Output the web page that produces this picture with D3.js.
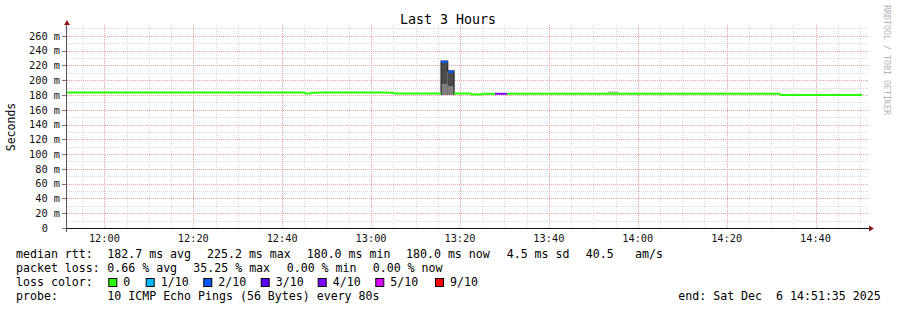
<!DOCTYPE html>
<html>
<head>
<meta charset="utf-8">
<script src="https://cdn.jsdelivr.net/npm/d3@7"></script>
<style>
  body { margin: 0; background: #fff; }
  svg { display: block; }
  text { font-family: "DejaVu Sans Mono", monospace; white-space: pre; }
</style>
</head>
<body>
<svg id="chart" width="897" height="310"></svg>
<script>
// segment start times (80s probe, consolidated), and the last end
var segStart = ["11:51:35", "12:45:08", "12:46:29", "12:47:50", "13:03:48", "13:05:10",
    "13:15:45", "13:17:15", "13:18:40", "13:22:30", "13:25:00", "13:27:53", "13:30:35", "14:32:00"];
var lastEnd = "14:50:28";
var medianMs = [183.4, 182.0, 183.0, 183.4, 183.0, 182.0,
    224.9, 211.3, 182.0, 180.8, 181.6, 181.6, 181.6, 180.1];
var lossTenths = [0, 0, 0, 0, 0, 0, 2, 2, 0, 0, 0, 4, 0, 0];

// smoke (ms): min, upper edge of light band, max
var smokeFrom = ["13:15:45", "13:17:15", "13:53:18"];
var smokeTo   = ["13:17:15", "13:18:40", "13:55:47"];
var smokeMin  = [180.0, 180.0, 181.6];
var smokeMid  = [195.0, 192.0, 185.0];
var smokeMax  = [226.0, 212.5, 185.0];

var yTicks = [0, 20, 40, 60, 80, 100, 120, 140, 160, 180, 200, 220, 240, 260];
var xTickTimes = ["12:00", "12:20", "12:40", "13:00", "13:20", "13:40", "14:00", "14:20", "14:40"];

var lossLabels = ["0", "1/10", "2/10", "3/10", "4/10", "5/10", "9/10"];
var lossColors = ["#26ff00", "#00b8ff", "#0059ff", "#5e00ff", "#7e00ff", "#dd00ff", "#ff0000"];
var lossIndex = {0: 0, 1: 1, 2: 2, 3: 3, 4: 4, 5: 5, 9: 6};

var rttRow = ["median rtt:", "182.7 ms avg", "225.2 ms max", "180.0 ms min", "180.0 ms now", "4.5 ms sd", "40.5", "am/s"];
var lossRow = ["packet loss:", "0.66 % avg", "35.25 % max", "0.00 % min", "0.00 % now"];
var probeRow = ["probe:", "10 ICMP Echo Pings (56 Bytes) every 80s"];
var endText = "end: Sat Dec  6 14:51:35 2025";

var parseT = d3.timeParse("%H:%M:%S");
var parseHM = d3.timeParse("%H:%M");

var svg = d3.select("#chart");

var x = d3.scaleTime()
    .domain([parseT("11:51:35"), parseT("14:51:35")])
    .range([67, 867]);
var y = d3.scaleLinear()
    .domain([0, 272])
    .range([228, 27]);

// grid
var grid = svg.append("g");
var minorY = d3.range(10, 272, 10).filter(function (v) { return v % 20 !== 0; });
grid.selectAll(".gy").data(minorY).enter().append("line")
    .attr("x1", 67).attr("x2", 869)
    .attr("y1", function (d) { return Math.round(y(d)) + 0.5; })
    .attr("y2", function (d) { return Math.round(y(d)) + 0.5; })
    .attr("stroke", "#d9d9d9").attr("stroke-dasharray", "1,1");
var minorX = d3.timeMinute.every(5).range(x.domain()[0], x.domain()[1]);
grid.selectAll(".gx").data(minorX).enter().append("line")
    .attr("x1", function (d) { return Math.round(x(d)) + 0.5; })
    .attr("x2", function (d) { return Math.round(x(d)) + 0.5; })
    .attr("y1", 25).attr("y2", 228)
    .attr("stroke", "#d9d9d9").attr("stroke-dasharray", "1,1");
grid.selectAll(".my").data(yTicks.slice(1)).enter().append("line")
    .attr("x1", 67).attr("x2", 869)
    .attr("y1", function (d) { return Math.round(y(d)) + 0.5; })
    .attr("y2", function (d) { return Math.round(y(d)) + 0.5; })
    .attr("stroke", "#f4a4a4").attr("stroke-dasharray", "1,1");
grid.selectAll(".mx").data(xTickTimes).enter().append("line")
    .attr("x1", function (d) { return Math.round(x(parseHM(d))) + 0.5; })
    .attr("x2", function (d) { return Math.round(x(parseHM(d))) + 0.5; })
    .attr("y1", 25).attr("y2", 228)
    .attr("stroke", "#f4a4a4").attr("stroke-dasharray", "1,1");

// smoke
var smoke = svg.append("g");
smokeFrom.forEach(function (f, i) {
    var x0 = x(parseT(f)), x1 = x(parseT(smokeTo[i]));
    var big = smokeMax[i] - smokeMin[i] > 10;
    smoke.append("rect")
        .attr("x", x0).attr("width", x1 - x0)
        .attr("y", y(smokeMax[i])).attr("height", y(smokeMin[i]) - y(smokeMax[i]))
        .attr("fill", big ? "#4a4a4a" : "#c4c4c4");
    if (big) {
        smoke.append("rect")
            .attr("x", x0).attr("width", x1 - x0)
            .attr("y", y(smokeMid[i])).attr("height", y(smokeMin[i]) - y(smokeMid[i]))
            .attr("fill", "#808080");
    }
});
// dark outline of spike
var spikePts = [0, 1].map(function (i) { return [x(parseT(smokeFrom[i])), y(smokeMax[i])]; });
spikePts.push([x(parseT(smokeTo[1])), y(smokeMax[1])]);
smoke.append("path")
    .attr("d", "M" + spikePts[0][0] + "," + y(smokeMin[0]) +
        "V" + spikePts[0][1] + "H" + spikePts[1][0] + "V" + spikePts[1][1] +
        "H" + spikePts[2][0] + "V" + y(smokeMin[1]))
    .attr("fill", "none").attr("stroke", "#262626").attr("stroke-width", 1.2);

// median line, per segment coloured by loss
var segs = segStart.map(function (s, i) {
    return {
        t0: parseT(s),
        t1: parseT(i < segStart.length - 1 ? segStart[i + 1] : lastEnd),
        v: medianMs[i],
        c: lossColors[lossIndex[lossTenths[i]]]
    };
});
var line = svg.append("g");
segs.forEach(function (s, i) {
    line.append("line")
        .attr("x1", x(s.t0)).attr("x2", x(s.t1))
        .attr("y1", y(s.v)).attr("y2", y(s.v))
        .attr("stroke", s.c).attr("stroke-width", 2);
    var nxt = segs[i + 1];
    if (nxt && nxt.c === s.c && Math.abs(nxt.v - s.v) < 6) {
        line.append("line")
            .attr("x1", x(s.t1)).attr("x2", x(s.t1))
            .attr("y1", y(s.v)).attr("y2", y(nxt.v))
            .attr("stroke", s.c).attr("stroke-width", 2);
    }
});

// axes
svg.append("line").attr("x1", 66.5).attr("x2", 66.5).attr("y1", 25).attr("y2", 232)
    .attr("stroke", "#555");
svg.append("line").attr("x1", 63).attr("x2", 870).attr("y1", 228.5).attr("y2", 228.5)
    .attr("stroke", "#111");
svg.append("path").attr("d", "M64,25 L67,20 L70,25 Z").attr("fill", "#8b1a1a");
svg.append("path").attr("d", "M869,225.5 L874,228.5 L869,231.5 Z").attr("fill", "#8b1a1a");

svg.selectAll(".yt").data(yTicks).enter().append("line")
    .attr("x1", 62).attr("x2", 66)
    .attr("y1", function (d) { return Math.round(y(d)) + 0.5; })
    .attr("y2", function (d) { return Math.round(y(d)) + 0.5; })
    .attr("stroke", "#777");
svg.selectAll(".yl").data(yTicks).enter().append("text")
    .attr("x", function (d) { return d === 0 ? 48 : 60; })
    .attr("y", function (d) { return y(d) + 3.8; })
    .attr("text-anchor", "end")
    .attr("font-size", "10.3px").attr("fill", "#111")
    .text(function (d) { return d === 0 ? "0" : d + " m"; });

svg.selectAll(".xl").data(xTickTimes).enter().append("text")
    .attr("x", function (d) { return x(parseHM(d)); })
    .attr("y", 241.5)
    .attr("text-anchor", "middle")
    .attr("font-size", "10.3px").attr("fill", "#111")
    .text(function (d) { return d; });

// titles
svg.append("text").attr("x", 448).attr("y", 24).attr("text-anchor", "middle")
    .attr("font-size", "13.3px").attr("fill", "#000").text("Last 3 Hours");
svg.append("text").attr("transform", "translate(15,127) rotate(-90)")
    .attr("text-anchor", "middle").attr("font-size", "11.5px").attr("fill", "#000")
    .text("Seconds");
svg.append("text").attr("transform", "translate(884,60) rotate(90)")
    .attr("text-anchor", "middle").attr("font-size", "8.3px").attr("fill", "#b4b4b4")
    .text("RRDTOOL / TOBI OETIKER");

// legend
var fs = "11.6px";
var rttX = [16, 107.3, 207, 306.7, 406, 506.7, 585.7, 635];
var lossX = [16, 107.3, 193.3, 286.7, 372.7];
var swX = [108.3, 145.7, 203.3, 260.7, 317.7, 375.3, 435];
function row(items, xs, yy) {
    items.forEach(function (t, i) {
        svg.append("text").attr("x", xs[i]).attr("y", yy)
            .attr("font-size", fs).attr("fill", "#000").text(t);
    });
}
row(rttRow, rttX, 258.3);
row(lossRow, lossX, 272.3);
row(["loss color:"], [16], 286.3);
lossLabels.forEach(function (l, i) {
    svg.append("rect").attr("x", swX[i] + 0.5).attr("y", 278.5).attr("width", 8).attr("height", 8)
        .attr("fill", lossColors[i]).attr("stroke", "#000");
    svg.append("text").attr("x", swX[i] + 15).attr("y", 286.3)
        .attr("font-size", fs).attr("fill", "#000").text(l);
});
row(probeRow, [16, 107.3], 300.3);
row([endText], [678.3], 300.3);
</script>
</body>
</html>
